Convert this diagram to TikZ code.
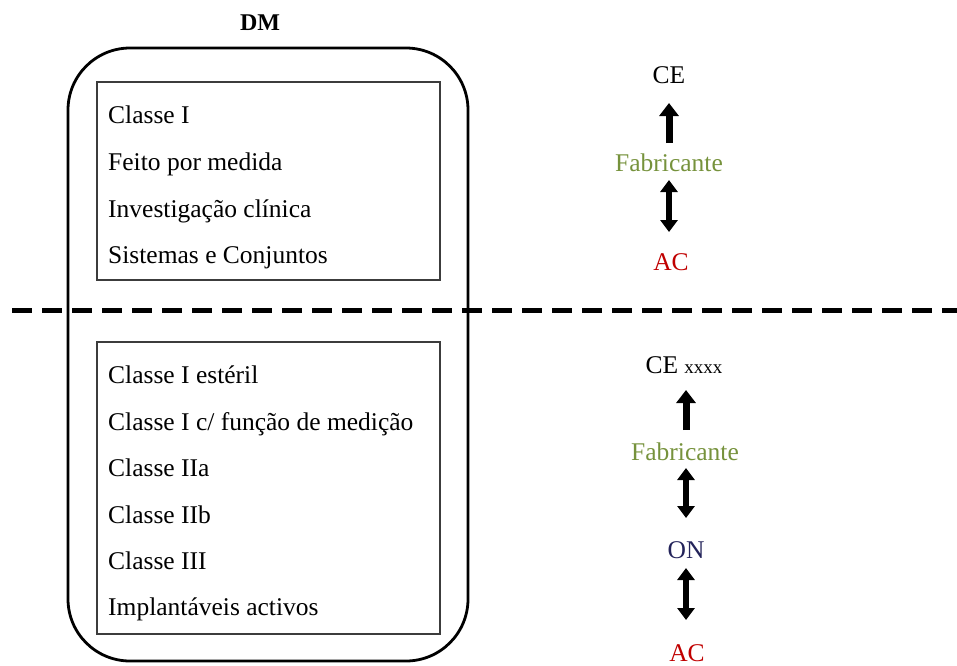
\documentclass[tikz,border=0pt]{standalone}
\usepackage{fontspec}
\setmainfont{Liberation Serif}
\usetikzlibrary{arrows.meta}
\definecolor{fabgreen}{RGB}{118,146,60}
\definecolor{acred}{RGB}{192,0,0}
\definecolor{onblue}{RGB}{35,35,90}
\definecolor{boxgray}{RGB}{60,60,60}
\tikzset{
  item/.style={anchor=base west,inner sep=0pt,font=\fontsize{25.5}{28}\selectfont},
  label/.style={anchor=base,inner sep=0pt,font=\fontsize{25.5}{28}\selectfont},
  listbox/.style={draw=boxgray,line width=1.4pt},
  uparrow/.style={line width=7pt,-{Triangle[length=13pt,width=19pt]}},
  bothways/.style={line width=6.5pt,{Triangle[length=12pt,width=17pt]}-{Triangle[length=12pt,width=17pt]}}
}
\begin{document}
\begin{tikzpicture}[x=1pt,y=-1pt]
\useasboundingbox (0,0) rectangle (957,665);

% heading and outer rounded frame
\node[anchor=base,inner sep=0pt,font=\fontsize{24}{28}\selectfont\bfseries] (dm) at (260,30) {DM};
\draw[line width=2.8pt,rounded corners=62pt] (68,48) rectangle (468,661);

% separating dashed line
\draw[line width=5pt,dash pattern=on 20pt off 10pt] (12,310) -- (957,310);

% upper list
\draw[listbox] (97,82) rectangle (440,280);
\node[item] (u1) at (108,123) {Classe I};
\node[item] (u2) at (108,170) {Feito por medida};
\node[item] (u3) at (108,217) {Investigação clínica};
\node[item] (u4) at (108,263) {Sistemas e Conjuntos};

% lower list
\draw[listbox] (97,342) rectangle (440,634);
\node[item] (l1) at (108,383) {Classe I estéril};
\node[item] (l2) at (108,430) {Classe I c/ função de medição};
\node[item] (l3) at (108,476) {Classe IIa};
\node[item] (l4) at (108,523) {Classe IIb};
\node[item] (l5) at (108,569) {Classe III};
\node[item] (l6) at (108,615) {Implantáveis activos};

% upper chain
\node[label] (ce1) at (669,83) {CE};
\node[label,text=fabgreen] (fab1) at (669,171) {Fabricante};
\node[label,text=acred] (ac1) at (671,270) {AC};
\coordinate (a1s) at (669,143);
\coordinate (a1e) at (669,103);
\coordinate (b1s) at (669,180);
\coordinate (b1e) at (669,232);
\draw[uparrow] (a1s) -- (a1e);
\draw[bothways] (b1s) -- (b1e);

% lower chain
\node[label] (ce2) at (684,373) {CE {\fontsize{19}{22}\selectfont xxxx}};
\node[label,text=fabgreen] (fab2) at (685,460) {Fabricante};
\node[label,text=onblue] (on2) at (686,558) {ON};
\node[label,text=acred] (ac2) at (687,661) {AC};
\coordinate (a2s) at (686,430);
\coordinate (a2e) at (686,390);
\coordinate (b2s) at (686,468);
\coordinate (b2e) at (686,518);
\coordinate (c2s) at (686,568);
\coordinate (c2e) at (686,620);
\draw[uparrow] (a2s) -- (a2e);
\draw[bothways] (b2s) -- (b2e);
\draw[bothways] (c2s) -- (c2e);
\end{tikzpicture}
\end{document}
